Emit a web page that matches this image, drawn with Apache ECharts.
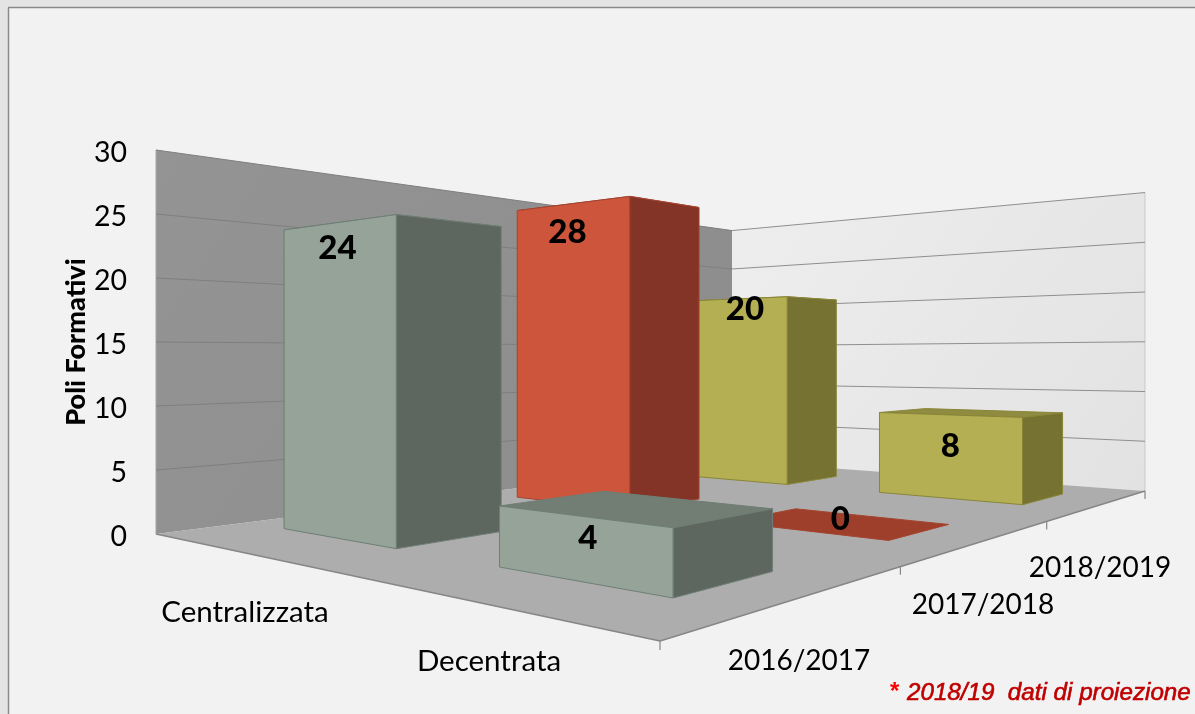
<!DOCTYPE html>
<html><head><meta charset="utf-8">
<style>html,body{margin:0;padding:0;background:#f2f2f2}#c{width:1195px;height:714px}</style>
<script src="https://cdn.jsdelivr.net/npm/echarts@6/dist/echarts.min.js"></script>
</head><body><div id="c"></div>
<script>
const categories = ['Centralizzata', 'Decentrata'];
const years = ['2016/2017', '2017/2018', '2018/2019'];
const values2016 = [24, 4];
const values2017 = [28, 0];
const values2018 = [20, 8];
const yTicks = [0, 5, 10, 15, 20, 25, 30];
const yTitle = 'Poli Formativi';
const footnoteStar = '*';
const footnote = '2018/19  dati di proiezione';

// layout / style (not data)
const floor = [[156,534],[660,641],[1145,491],[732,461]];
const palette = [
  {front:'#95A398', side:'#5E6660', top:'#727D74', edge:'#6F7F75'},
  {front:'#CD553B', side:'#833427', top:'#9E3F2C', edge:'#A5442F'},
  {front:'#B4AF53', side:'#757232', top:'#8F8C42', edge:'#8A8638'}
];
const labelNudge = [
  [[0,26],[7,22]],
  [[-4,29],[35,-11]],
  [[13,10],[2,31]]
];
const barU = [0.144, 0.142], barV = [0.064, 0.068];
const FONT = 'Lato';

// floor homography from the unit square to the four floor corners
const [p0,p1,p2,p3] = floor;
const dx1=p1[0]-p2[0], dx2=p3[0]-p2[0], sx=p0[0]-p1[0]+p2[0]-p3[0];
const dy1=p1[1]-p2[1], dy2=p3[1]-p2[1], sy=p0[1]-p1[1]+p2[1]-p3[1];
const den=dx1*dy2-dx2*dy1;
const hg=(sx*dy2-dx2*sy)/den, hh=(dx1*sy-sx*dy1)/den;
const ha=p1[0]-p0[0]+hg*p1[0], hb=p3[0]-p0[0]+hh*p3[0];
const hd=p1[1]-p0[1]+hg*p1[1], he=p3[1]-p0[1]+hh*p3[1];

function projector(api){
  const y0 = api.coord([0,0])[1];
  return function(u,v,val){
    const w = hg*u+hh*v+1;
    const lift = y0 - api.coord([0,val])[1];
    return [(ha*u+hb*v+p0[0])/w, (hd*u+he*v+p0[1]-lift)/w];
  };
}
function poly(points, fill, stroke, lw){
  return {type:'polygon', shape:{points}, style:{fill, stroke:stroke||null, lineWidth:lw||0}};
}
function line(a,b,stroke,lw){
  return {type:'line', shape:{x1:a[0],y1:a[1],x2:b[0],y2:b[1]}, style:{stroke, lineWidth:lw||1, fill:null}};
}

function renderScene(params, api){
  const P = projector(api), kids = [];
  const top = yTicks[yTicks.length-1];
  kids.push(poly([P(0,0,0),P(0,1,0),P(0,1,top),P(0,0,top)],
    new echarts.graphic.LinearGradient(0,0,1,1,[{offset:0,color:'#949494'},{offset:1,color:'#8c8c8c'}])));
  kids.push(poly([P(0,1,0),P(1,1,0),P(1,1,top),P(0,1,top)],
    new echarts.graphic.LinearGradient(0,0,1,1,[{offset:0,color:'#eeeeee'},{offset:1,color:'#e2e2e2'}])));
  kids.push(line(P(1,1,0),P(1,1,top),'#c9c9c9',1));
  kids.push(line(P(0,0,0),P(0,0,top),'#a8a8a8',1));
  yTicks.forEach(t=>{
    if(t===0) return;
    kids.push(line(P(0,0,t),P(0,1,t),'#7f7f7f',1));
    kids.push(line(P(0,1,t),P(1,1,t),'#8f8f8f',1));
  });
  kids.push(poly([P(0,0,0),P(1,0,0),P(1,1,0),P(0,1,0)],'#adadad'));
  kids.push(line(P(0,0,0),P(1,0,0),'#868686',1.5));
  kids.push(line(P(1,0,0),P(1,1,0),'#868686',1.5));
  for(let j=0;j<=years.length;j++){
    const inner = j>0 && j<years.length;
    const a=P(1,j/years.length-(inner?0.012:0),0);
    kids.push(line(a,[a[0],a[1]+(j===0?9:8)],'#868686',1.2));
  }
  return {type:'group', children:kids};
}

function renderBar(yearIndex){
  return function(params, api){
    const P = projector(api);
    const i = api.value(0), val = api.value(1);
    const uc=(i+0.5)/categories.length, vc=(yearIndex+0.5)/years.length;
    const u0=uc-barU[0],u1=uc+barU[1],v0=vc-barV[0],v1=vc+barV[1];
    const c = palette[yearIndex], kids=[];
    kids.push(poly([P(u0,v0,val),P(u1,v0,val),P(u1,v1,val),P(u0,v1,val)],c.top,c.edge,1));
    if(val>0){
      kids.push(poly([P(u0,v0,0),P(u1,v0,0),P(u1,v0,val),P(u0,v0,val)],c.front,c.edge,1));
      kids.push(poly([P(u1,v0,0),P(u1,v1,0),P(u1,v1,val),P(u1,v0,val)],c.side,c.edge,1));
    }
    const a=P(uc,v0,val), n=labelNudge[yearIndex][i];
    kids.push({type:'text',z2:100,style:{text:String(val),x:a[0]+n[0],y:a[1]+n[1],
      align:'center',verticalAlign:'middle',fill:'#000',
      font:'900 33px '+FONT}});
    return {type:'group',children:kids};
  };
}
function barSeries(name,yearIndex,vals){
  return {type:'custom',name,coordinateSystem:'cartesian2d',silent:true,
    encode:{x:0,y:1},data:vals.map((v,i)=>[i,v]),renderItem:renderBar(yearIndex)};
}

const chart = echarts.init(document.getElementById('c'),null,{renderer:'canvas'});
const txt = (text,x,y,extra)=>({type:'text',z:50,style:Object.assign({text,x,y,fill:'#000',
  align:'center',verticalAlign:'middle',font:'28px '+FONT},extra||{})});
chart.setOption({
  animation:false,
  backgroundColor:'#f2f2f2',
  grid:{left:156,top:150,width:989,height:384},
  xAxis:{type:'value',min:0,max:1,show:false},
  yAxis:{type:'value',min:0,max:30,interval:5,
    axisLine:{show:false},axisTick:{show:false},splitLine:{show:false},
    axisLabel:{margin:29,formatter:'{t|{value}}',
      rich:{t:{color:'#000',fontFamily:FONT,fontSize:28.5,padding:[5,0,0,0]}}},
    name:yTitle,nameLocation:'middle',nameGap:66,nameRotate:90,nameMoveOverlap:false,
    nameTextStyle:{color:'#000',fontFamily:FONT,fontWeight:900,fontSize:27}},
  graphic:[
    {type:'rect',z:-1,shape:{x:0,y:0,width:1195,height:8},style:{fill:'#e4e4e4'}},
    {type:'rect',z:-1,shape:{x:0,y:0,width:8,height:714},style:{fill:'#e4e4e4'}},
    {type:'line',z:-1,shape:{x1:8.5,y1:8,x2:8.5,y2:714},style:{stroke:'#8a8a8a',lineWidth:1.5}},
    {type:'line',z:-1,shape:{x1:8,y1:7.5,x2:1195,y2:7.5},style:{stroke:'#8a8a8a',lineWidth:1.5}},
    txt(categories[0],245,612,{font:'29.5px '+FONT}),
    txt(categories[1],489,661,{font:'29.5px '+FONT}),
    txt(years[0],799,661),
    txt(years[1],983,605),
    txt(years[2],1100,568),
    txt(footnoteStar,889,692,{align:'left',fill:'#ff0000',font:'italic bold 24px "Liberation Sans"'}),
    txt(footnote,907,693,{align:'left',fill:'#c00000',font:'italic 24.2px "Liberation Sans"',stroke:'#c00000',lineWidth:0.6})
  ],
  series:[
    {type:'custom',name:'scene',coordinateSystem:'cartesian2d',silent:true,encode:{x:0,y:1},data:[[0,0]],renderItem:renderScene},
    barSeries(years[2],2,values2018),
    barSeries(years[1],1,values2017),
    barSeries(years[0],0,values2016)
  ]
});
</script></body></html>
